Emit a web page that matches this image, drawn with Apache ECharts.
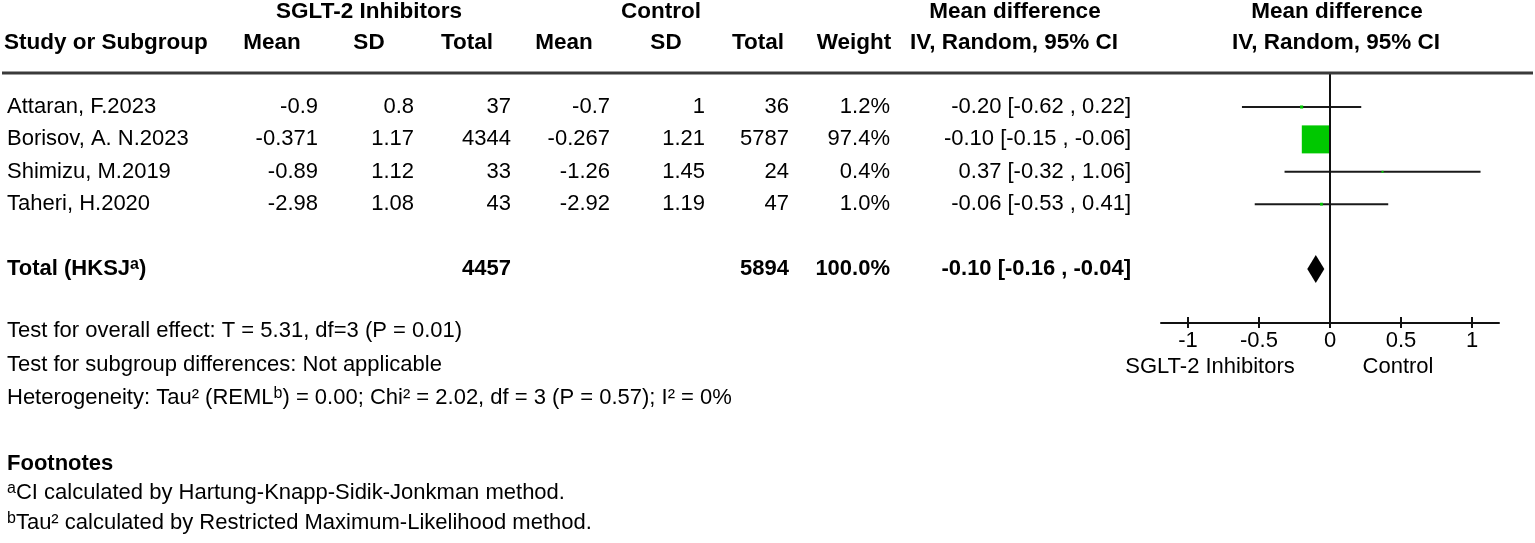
<!DOCTYPE html>
<html>
<head>
<meta charset="utf-8">
<script src="https://cdn.jsdelivr.net/npm/echarts@6/dist/echarts.min.js"></script>
<style>
html,body{margin:0;padding:0;background:#fff;}
#chart{width:1535px;height:543px;}
</style>
</head>
<body>
<div id="chart"></div>
<script>
// ---------------- data ----------------
const studies   = ['Attaran, F.2023', 'Borisov, A. N.2023', 'Shimizu, M.2019', 'Taheri, H.2020'];
const expMean   = [-0.9, -0.371, -0.89, -2.98];
const expSD     = [0.8, 1.17, 1.12, 1.08];
const expTotal  = [37, 4344, 33, 43];
const ctrlMean  = [-0.7, -0.267, -1.26, -2.92];
const ctrlSD    = [1, 1.21, 1.45, 1.19];
const ctrlTotal = [36, 5787, 24, 47];
const weights   = [1.2, 97.4, 0.4, 1.0];
const md        = [-0.20, -0.10, 0.37, -0.06];
const ciLow     = [-0.62, -0.15, -0.32, -0.53];
const ciHigh    = [0.22, -0.06, 1.06, 0.41];

const totalLabel     = 'Total (HKSJ{sup|a})';
const totalExp       = 4457;
const totalCtrl      = 5894;
const totalWeight    = 100.0;
const totalMD        = -0.10;
const totalLow       = -0.16;
const totalHigh      = -0.04;

const xTicks = [-1, -0.5, 0, 0.5, 1];
const leftAxisLabel  = 'SGLT-2 Inhibitors';
const rightAxisLabel = 'Control';

const groupHeaders = ['SGLT-2 Inhibitors', 'Control', 'Mean difference', 'Mean difference'];
const colHeaders   = ['Study or Subgroup', 'Mean', 'SD', 'Total', 'Mean', 'SD', 'Total', 'Weight', 'IV, Random, 95% CI', 'IV, Random, 95% CI'];
const footerLines  = [
  'Test for overall effect: T = 5.31, df=3 (P = 0.01)',
  'Test for subgroup differences: Not applicable',
  'Heterogeneity: Tau² (REML{sup|b}) = 0.00; Chi² = 2.02, df = 3 (P = 0.57); I² = 0%'
];
const footnoteTitle = 'Footnotes';
const footnotes = [
  '{sup|a}CI calculated by Hartung-Knapp-Sidik-Jonkman method.',
  '{sup|b}Tau² calculated by Restricted Maximum-Likelihood method.'
];

// ---------------- layout ----------------
const FONT = '"Liberation Sans", Arial, sans-serif';
const FS = 22;
const HFS = 22.5;
const TOTAL_ROW = 5;
const LEFT = 7;
const colRight = [318, 414, 511, 610, 705, 789, 890, 1131]; // value columns right edges
const headerCenters = [272, 369, 467, 564, 666, 758, 854, 1014, 1336];
const groupCenters = [369, 661, 1015, 1337];
const rich = { sup: { fontSize: 16, verticalAlign: 'top', fontFamily: FONT, padding: [0, 0, 9, 0] } };
const richBold = { sup: { fontSize: 16, verticalAlign: 'top', fontFamily: FONT, fontWeight: 'bold', padding: [0, 0, 9, 0] } };

const fmtCI = (m, l, h) => m.toFixed(2) + ' [' + l.toFixed(2) + ' , ' + h.toFixed(2) + ']';

const rowData = studies.map((s, i) => ({
  idx: i, bold: false,
  cells: [s, String(expMean[i]), String(expSD[i]), String(expTotal[i]), String(ctrlMean[i]), String(ctrlSD[i]), String(ctrlTotal[i]), weights[i].toFixed(1) + '%', fmtCI(md[i], ciLow[i], ciHigh[i])]
}));
rowData.push({
  idx: TOTAL_ROW, bold: true,
  cells: [totalLabel, '', '', String(totalExp), '', '', String(totalCtrl), totalWeight.toFixed(1) + '%', fmtCI(totalMD, totalLow, totalHigh)]
});

const chart = echarts.init(document.getElementById('chart'), null, { renderer: 'canvas' });

const textSeriesData = rowData.map(r => [0, r.idx]);

const graphics = [];
// header line
graphics.push({ type: 'line', shape: { x1: 2, y1: 73, x2: 1533, y2: 73 }, style: { stroke: '#3a3a3a', lineWidth: 3 }, z: 10 });
groupHeaders.forEach((t, i) => graphics.push({
  type: 'text', x: groupCenters[i], y: 12,
  style: { text: t, font: 'bold ' + HFS + 'px ' + FONT, fill: '#000', align: 'center', verticalAlign: 'middle' }
}));
colHeaders.forEach((t, i) => {
  if (i === 0) {
    graphics.push({ type: 'text', x: 4, y: 43, style: { text: t, font: 'bold ' + HFS + 'px ' + FONT, fill: '#000', align: 'left', verticalAlign: 'middle' } });
  } else {
    graphics.push({ type: 'text', x: headerCenters[i - 1], y: 43, style: { text: t, font: 'bold ' + HFS + 'px ' + FONT, fill: '#000', align: 'center', verticalAlign: 'middle' } });
  }
});
footerLines.forEach((t, i) => graphics.push({
  type: 'text', x: LEFT, y: 331 + i * 33.5,
  style: { text: t, font: FS + 'px ' + FONT, fontSize: FS, fontFamily: FONT, fill: '#000', align: 'left', verticalAlign: 'middle', rich: rich }
}));
graphics.push({ type: 'text', x: LEFT, y: 464, style: { text: footnoteTitle, font: 'bold ' + FS + 'px ' + FONT, fill: '#000', align: 'left', verticalAlign: 'middle' } });
footnotes.forEach((t, i) => graphics.push({
  type: 'text', x: LEFT, y: 493 + i * 30,
  style: { text: t, font: FS + 'px ' + FONT, fontSize: FS, fontFamily: FONT, fill: '#000', align: 'left', verticalAlign: 'middle', rich: rich }
}));
graphics.push({ type: 'text', x: 1210, y: 367, style: { text: leftAxisLabel, font: FS + 'px ' + FONT, fill: '#000', align: 'center', verticalAlign: 'middle' } });
graphics.push({ type: 'text', x: 1398, y: 367, style: { text: rightAxisLabel, font: FS + 'px ' + FONT, fill: '#000', align: 'center', verticalAlign: 'middle' } });

const option = {
  backgroundColor: '#fff',
  animation: false,
  grid: { left: 1161, top: 73, width: 338, height: 250, containLabel: false },
  xAxis: [
    {
      type: 'value', min: -1.19, max: 1.19, position: 'bottom',
      axisLine: { show: true, onZero: false, lineStyle: { color: '#111', width: 2 } },
      axisTick: { show: true, length: 5, customValues: xTicks, lineStyle: { color: '#111', width: 2 } },
      axisLabel: { show: true, customValues: xTicks, margin: 7, fontSize: FS, fontFamily: FONT, color: '#000' },
      splitLine: { show: false }
    },
    {
      type: 'value', min: -1.19, max: 1.19, position: 'bottom', offset: 0,
      axisLine: { show: false, onZero: false },
      axisTick: { show: true, inside: true, length: 6, customValues: xTicks, lineStyle: { color: '#111', width: 2 } },
      axisLabel: { show: false },
      splitLine: { show: false }
    }
  ],
  yAxis: {
    type: 'value', inverse: true, min: -1.05, max: 6.67, show: false
  },
  graphic: graphics,
  series: [
    {
      // confidence interval whiskers
      type: 'custom', xAxisIndex: 0, z: 2,
      data: studies.map((s, i) => [ciLow[i], ciHigh[i], i]),
      renderItem: function (params, api) {
        const a = api.coord([api.value(0), api.value(2)]);
        const b = api.coord([api.value(1), api.value(2)]);
        return { type: 'line', shape: { x1: a[0], y1: a[1], x2: b[0], y2: b[1] }, style: { stroke: '#1a1a1a', lineWidth: 2 } };
      }
    },
    {
      // study point estimates (squares sized by weight)
      type: 'scatter', xAxisIndex: 0, z: 3,
      symbol: 'rect',
      data: studies.map((s, i) => [md[i], i, weights[i]]),
      symbolSize: function (v) { return Math.max(2, 28 * Math.sqrt(v[2] / 97.4)); },
      itemStyle: { color: '#00c800', opacity: 1 },
      markLine: {
        silent: true, symbol: 'none', label: { show: false },
        lineStyle: { color: '#111', width: 2, type: 'solid' },
        data: [{ xAxis: 0 }]
      }
    },
    {
      // pooled diamond
      type: 'custom', xAxisIndex: 0, z: 4,
      data: [[totalLow, totalMD, totalHigh, TOTAL_ROW]],
      renderItem: function (params, api) {
        const l = api.coord([api.value(0), api.value(3)]);
        const m = api.coord([api.value(1), api.value(3)]);
        const h = api.coord([api.value(2), api.value(3)]);
        const hh = 14;
        return { type: 'polygon', shape: { points: [[l[0], l[1]], [m[0], m[1] - hh], [h[0], h[1]], [m[0], m[1] + hh]] }, style: { fill: '#000' } };
      }
    },
    {
      // table text rows
      type: 'custom', xAxisIndex: 0, z: 5, clip: false,
      data: textSeriesData,
      renderItem: function (params, api) {
        const r = rowData[params.dataIndex];
        const y = api.coord([0, api.value(1)])[1];
        const weight = r.bold ? 'bold ' : '';
        const children = [];
        children.push({ type: 'text', x: LEFT, y: y, style: { text: r.cells[0], font: weight + FS + 'px ' + FONT, fontSize: FS, fontFamily: FONT, fontWeight: r.bold ? 'bold' : 'normal', fill: '#000', align: 'left', verticalAlign: 'middle', rich: r.bold ? richBold : rich } });
        for (let c = 1; c < r.cells.length; c++) {
          if (!r.cells[c]) continue;
          children.push({ type: 'text', x: colRight[c - 1], y: y, style: { text: r.cells[c], font: weight + FS + 'px ' + FONT, fill: '#000', align: 'right', verticalAlign: 'middle' } });
        }
        return { type: 'group', children: children };
      }
    }
  ]
};
chart.setOption(option);
</script>
</body>
</html>
